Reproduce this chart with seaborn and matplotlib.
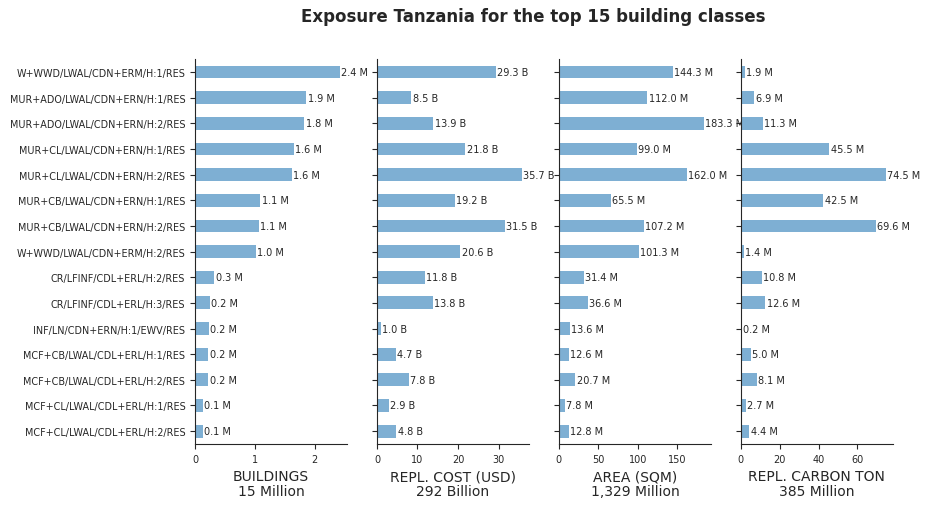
import matplotlib
matplotlib.use("Agg")
import matplotlib.pyplot as plt
import seaborn as sns
import pandas as pd

# Data
classes = [
    "W+WWD/LWAL/CDN+ERM/H:1/RES",
    "MUR+ADO/LWAL/CDN+ERN/H:1/RES",
    "MUR+ADO/LWAL/CDN+ERN/H:2/RES",
    "MUR+CL/LWAL/CDN+ERN/H:1/RES",
    "MUR+CL/LWAL/CDN+ERN/H:2/RES",
    "MUR+CB/LWAL/CDN+ERN/H:1/RES",
    "MUR+CB/LWAL/CDN+ERN/H:2/RES",
    "W+WWD/LWAL/CDN+ERM/H:2/RES",
    "CR/LFINF/CDL+ERL/H:2/RES",
    "CR/LFINF/CDL+ERL/H:3/RES",
    "INF/LN/CDN+ERN/H:1/EWV/RES",
    "MCF+CB/LWAL/CDL+ERL/H:1/RES",
    "MCF+CB/LWAL/CDL+ERL/H:2/RES",
    "MCF+CL/LWAL/CDL+ERL/H:1/RES",
    "MCF+CL/LWAL/CDL+ERL/H:2/RES",
]
buildings = [2.42, 1.86, 1.83, 1.65, 1.62, 1.09, 1.07, 1.02, 0.32, 0.25, 0.23, 0.22, 0.22, 0.13, 0.13]
repl_cost = [29.3, 8.5, 13.9, 21.8, 35.7, 19.2, 31.5, 20.6, 11.8, 13.8, 1.0, 4.7, 7.8, 2.9, 4.8]
area = [144.3, 112.0, 183.3, 99.0, 162.0, 65.5, 107.2, 101.3, 31.4, 36.6, 13.6, 12.6, 20.7, 7.8, 12.8]
carbon = [1.9, 6.9, 11.3, 45.5, 74.5, 42.5, 69.6, 1.4, 10.8, 12.6, 0.2, 5.0, 8.1, 2.7, 4.4]

panels = [
    (buildings, "M", "BUILDINGS\n15 Million"),
    (repl_cost, "B", "REPL. COST (USD)\n292 Billion"),
    (area, "M", "AREA (SQM)\n1,329 Million"),
    (carbon, "M", "REPL. CARBON TON\n385 Million"),
]

sns.set_style("ticks")
plt.rcParams['font.family'] = ['DejaVu Sans']

fig, axes = plt.subplots(1, 4, figsize=(9.3, 5.1), dpi=100, sharey=True)
fig.subplots_adjust(left=0.2097, right=0.960, top=0.882, bottom=0.1275, wspace=0.197)

bar_color = "#7eafd3"
for ax, (vals, unit, xlabel) in zip(axes, panels):
    df = pd.DataFrame({"cls": classes, "val": vals})
    sns.barplot(data=df, y="cls", x="val", color=bar_color, width=0.5,
                saturation=1, linewidth=0, ax=ax, orient="h")
    ax.bar_label(ax.containers[0], labels=[f"{v:.1f} {unit}" for v in vals],
                 padding=1, fontsize=7, color="#262626")
    ax.set_xlim(0, max(vals) * 1.05)
    ax.set_xlabel(xlabel, fontsize=10, linespacing=1.1)
    ax.set_ylabel("")
    ax.tick_params(axis="both", labelsize=7, colors="#262626")
    ax.tick_params(axis="y", labelsize=6.9)
    sns.despine(ax=ax)

fig.suptitle("Exposure Tanzania for the top 15 building classes",
             x=0.573, y=0.985, fontsize=12, fontweight="bold")

fig.savefig("out.png", dpi=100)
